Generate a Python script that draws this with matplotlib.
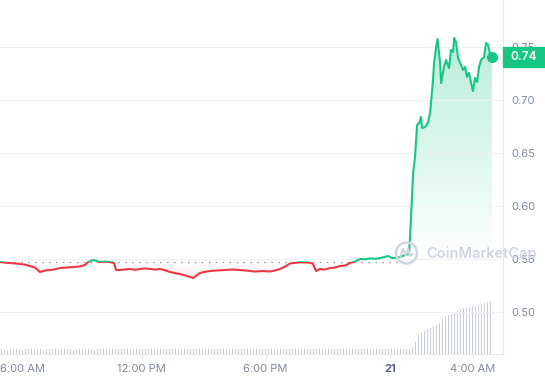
import numpy as np
import matplotlib
matplotlib.use('Agg')
import matplotlib.pyplot as plt
from matplotlib.patches import Rectangle, Circle
from matplotlib.lines import Line2D
from matplotlib.colors import to_rgb
from matplotlib.transforms import blended_transform_factory

plt.rcParams['font.family'] = ['Inter', 'DejaVu Sans']

# price series, time in hours since 00:00 on the 20th
hours = [5.16, 5.40, 5.65, 5.90, 6.13, 6.40, 6.61, 6.85, 7.10, 7.35,
         7.58, 7.80, 8.06, 8.40, 8.79, 9.05, 9.27, 9.42,
         9.66, 9.99, 10.25, 10.48, 10.67, 10.77, 10.96, 11.20, 11.44, 11.70, 11.93, 12.15,
         12.41, 12.65, 12.89, 13.10, 13.38, 13.60, 13.86, 14.20, 14.49, 14.83,
         15.05, 15.31, 15.65, 16.03, 16.40, 16.76, 17.10, 17.48, 17.85, 18.21, 18.45, 18.69,
         18.95, 19.17, 19.66, 20.14, 20.28, 20.43, 20.62, 20.85, 21.11, 21.35, 21.59, 21.85,
         22.07, 22.31, 22.56, 22.80, 23.04, 23.30, 23.52, 23.91, 24.10, 24.30, 24.49, 24.73,
         24.92, 24.97, 25.12,
         25.21, 25.31, 25.41, 25.50, 25.55, 25.70, 25.84, 25.94, 25.99, 26.08,
         26.13, 26.23, 26.30, 26.42, 26.47, 26.61, 26.71, 26.85, 26.95, 27.05,
         27.10, 27.19, 27.29, 27.43, 27.53, 27.63, 27.72, 27.82, 27.92, 28.01,
         28.11, 28.21, 28.30, 28.40, 28.55, 28.64, 28.74, 28.84, 28.93]
price = [0.5472, 0.5466, 0.5462, 0.5458, 0.5453, 0.5446, 0.5434, 0.5420, 0.5377, 0.5392,
         0.5396, 0.5402, 0.5415, 0.5420, 0.5425, 0.5432, 0.5443, 0.5472,
         0.5491, 0.5472, 0.5475, 0.5472, 0.5462, 0.5396, 0.5396, 0.5402, 0.5406, 0.5398, 0.5406, 0.5411,
         0.5406, 0.5400, 0.5406, 0.5396, 0.5377, 0.5368, 0.5358, 0.5340, 0.5321, 0.5368,
         0.5378, 0.5387, 0.5392, 0.5396, 0.5401, 0.5396, 0.5390, 0.5382, 0.5386, 0.5382, 0.5392, 0.5406,
         0.5430, 0.5458, 0.5469, 0.5465, 0.5453, 0.5387, 0.5406, 0.5401, 0.5415, 0.5420, 0.5434, 0.5440,
         0.5462, 0.5476, 0.5500, 0.5498, 0.5505, 0.5502, 0.5509, 0.5528, 0.5509, 0.5512, 0.5519, 0.5538,
         0.5547, 0.5708, 0.6311,
         0.6462, 0.6764, 0.6783, 0.6840, 0.6736, 0.6745, 0.6792, 0.6877, 0.6991, 0.7189,
         0.7349, 0.7500, 0.7575, 0.7349, 0.7160, 0.7311, 0.7377, 0.7302, 0.7472, 0.7453,
         0.7585, 0.7547, 0.7396, 0.7330, 0.7283, 0.7311, 0.7217, 0.7255, 0.7160, 0.7085,
         0.7208, 0.7170, 0.7311, 0.7377, 0.7406, 0.7538, 0.7519, 0.7425, 0.7406]
ref_price = 0.547  # 24h open, dotted line

# relative volume bars
vol_start = 5.236
vol_step = 0.145
volume = [4.6, 4.6, 4.5, 4.6, 4.7, 4.6, 4.6, 4.5, 4.6, 4.6, 4.6, 4.7, 4.6, 4.6, 4.5, 4.6, 4.6, 4.6, 4.6, 4.5,
          4.6, 4.7, 4.6, 4.6, 4.5, 4.6, 4.6, 4.6, 4.7, 4.6, 4.6, 4.5, 4.6, 4.6, 4.6, 4.6, 4.7, 4.6, 5.2, 5.3,
          5.2, 5.2, 5.3, 5.2, 5.2, 5.1, 5.2, 5.2, 5.3, 5.2, 5.2, 5.2, 5.1, 5.2, 5.2, 5.3, 5.2, 5.2, 5.2, 5.1,
          5.2, 5.2, 5.2, 5.3, 5.2, 5.2, 5.1, 5.2, 5.2, 5.2, 5.3, 5.2, 5.2, 5.2, 5.1, 5.2, 5.2, 5.3, 5.2, 5.2,
          5.2, 5.2, 5.1, 5.2, 5.2, 5.3, 5.2, 5.2, 5.2, 5.1, 5.2, 5.2, 5.2, 5.3, 5.2, 5.2, 5.1, 5.2, 5.2, 5.2,
          5.3, 5.2, 5.2, 5.2, 5.1, 5.2, 5.2, 5.3, 5.2, 5.2, 5.2, 5.2, 5.1, 5.2, 5.2, 5.3, 5.2, 5.2, 5.2, 5.1,
          5.2, 5.2, 5.2, 5.3, 5.2, 5.2, 5.1, 5.2, 5.2, 5.2, 5.3, 5.2, 5.2, 5.2, 5.1, 5.2, 5.2,
          7, 12, 19, 21, 23, 25, 26, 28, 29, 31, 35, 37, 39, 40, 42, 44, 45, 46, 46, 47,
          48, 48, 49, 50, 51, 52, 53]

tick_hours = [6, 12, 18, 24, 28]
tick_labels = ['6:00 AM', '12:00 PM', '6:00 PM', '21', '4:00 AM']
price_ticks = [0.50, 0.55, 0.60, 0.65, 0.70, 0.75]

GREEN = '#16c784'
RED = '#ea3943'
GRID = '#eff2f5'
TXT = '#808a9d'

fig = plt.figure(figsize=(5.45, 3.8), dpi=100)
rect = [0, 26 / 380, 503 / 545, 354 / 380]

# volume in its own axes behind the price
axv = fig.add_axes(rect)
vol_times = vol_start + vol_step * np.arange(len(volume))
axv.bar(vol_times, volume, width=0.05, color='#c9cfdc', lw=0)
axv.set_ylim(0, max(volume) * 354 / 53)
axv.set_xlim(5.164, 29.46)
axv.axis('off')
axv.set_zorder(0)

ax = fig.add_axes(rect)
ax.set_zorder(1)
ax.patch.set_visible(False)

x0, x1 = hours[0], hours[-1]
poly = ax.fill_between(hours, price, ref_price, color='none', lw=0)
clip = poly.get_paths()[0]

g = np.zeros((256, 1, 4))
g[..., :3] = to_rgb(GREEN)
g[:, 0, 3] = np.linspace(0.0, 0.30, 256)
im = ax.imshow(g, extent=[x0, x1, ref_price, max(price)], origin='lower',
               aspect='auto', zorder=1, interpolation='bilinear')
im.set_clip_path(clip, ax.transData)

r = np.zeros((256, 1, 4))
r[..., :3] = to_rgb(RED)
r[:, 0, 3] = np.linspace(0.10, 0.0, 256)
im2 = ax.imshow(r, extent=[x0, x1, min(price), ref_price], origin='lower',
                aspect='auto', zorder=1, interpolation='bilinear')
im2.set_clip_path(clip, ax.transData)

# price line: green above the open, red below
ln_g, = ax.plot(hours, price, color=GREEN, lw=1.5, zorder=3, solid_joinstyle='round')
ln_r, = ax.plot(hours, price, color=RED, lw=1.5, zorder=3, solid_joinstyle='round')
ln_g.set_clip_path(Rectangle((0, ref_price), 40, 1, transform=ax.transData))
ln_r.set_clip_path(Rectangle((0, ref_price - 1), 40, 1, transform=ax.transData))
ax.plot(hours[-1], price[-1], 'o', color=GREEN, ms=7, zorder=4)

ax.axhline(ref_price, xmin=0, xmax=0.82, color='#8a94a6', lw=1,
           linestyle=(0, (1, 4)), zorder=2)

ax.set_xlim(5.164, 29.46)
ax.set_ylim(0.4604, 0.7943)

ax.yaxis.tick_right()
ax.set_yticks(price_ticks)
ax.set_yticklabels(['%.2f' % t for t in price_ticks])
ax.tick_params(axis='y', length=0, pad=6, labelsize=8, labelcolor=TXT)
ax.grid(axis='y', color=GRID, lw=0.8, zorder=0)

ax.set_xticks(tick_hours)
ax.set_xticklabels([''] + tick_labels[1:])
ax.tick_params(axis='x', length=3, color='#e0e4ea', labelsize=8, labelcolor=TXT, pad=4)
lab21 = ax.get_xticklabels()[3]
lab21.set_fontweight('bold')
lab21.set_color('#58667e')
# first label is pushed in so it stays inside the figure
ax.annotate(tick_labels[0], xy=(0, 0), xycoords='axes fraction', xytext=(0, -7),
            textcoords='offset points', ha='left', va='top', fontsize=8, color=TXT)

for s in ['top', 'left']:
    ax.spines[s].set_visible(False)
for s in ['bottom', 'right']:
    ax.spines[s].set_color('#e6e9ee')
    ax.spines[s].set_linewidth(0.8)

# last price tag
trans = blended_transform_factory(ax.transAxes, ax.transData)
ax.add_patch(Rectangle((1.0, price[-1] - 0.0094), 42 / 503, 0.0188, transform=trans,
                       color=GREEN, clip_on=False, zorder=5))
ax.text(1.0 + 21 / 503, price[-1], '%.2f' % price[-1], transform=trans, color='white',
        ha='center', va='center', fontsize=8.5, fontweight='semibold', clip_on=False, zorder=6)

# watermark
wm = '#cfd6e2'
fig.text(426 / 545, 1 - 254 / 380, 'CoinMarketCap', fontsize=10.5, color=wm,
         fontweight='semibold', va='center', ha='left', zorder=10)
cx, cy = 4.065, (380 - 253) / 100
fig.add_artist(Circle((cx, cy), 0.105, transform=fig.dpi_scale_trans, fill=False,
                      ec=wm, lw=1.8, zorder=10))
fig.add_artist(Line2D([cx - 0.06, cx - 0.035, cx - 0.01, cx + 0.015, cx + 0.035, cx + 0.06],
                      [cy - 0.035, cy + 0.04, cy - 0.02, cy + 0.04, cy - 0.03, cy - 0.01],
                      transform=fig.dpi_scale_trans, color=wm, lw=1.6, zorder=10))

fig.savefig('out.png', dpi=100)
